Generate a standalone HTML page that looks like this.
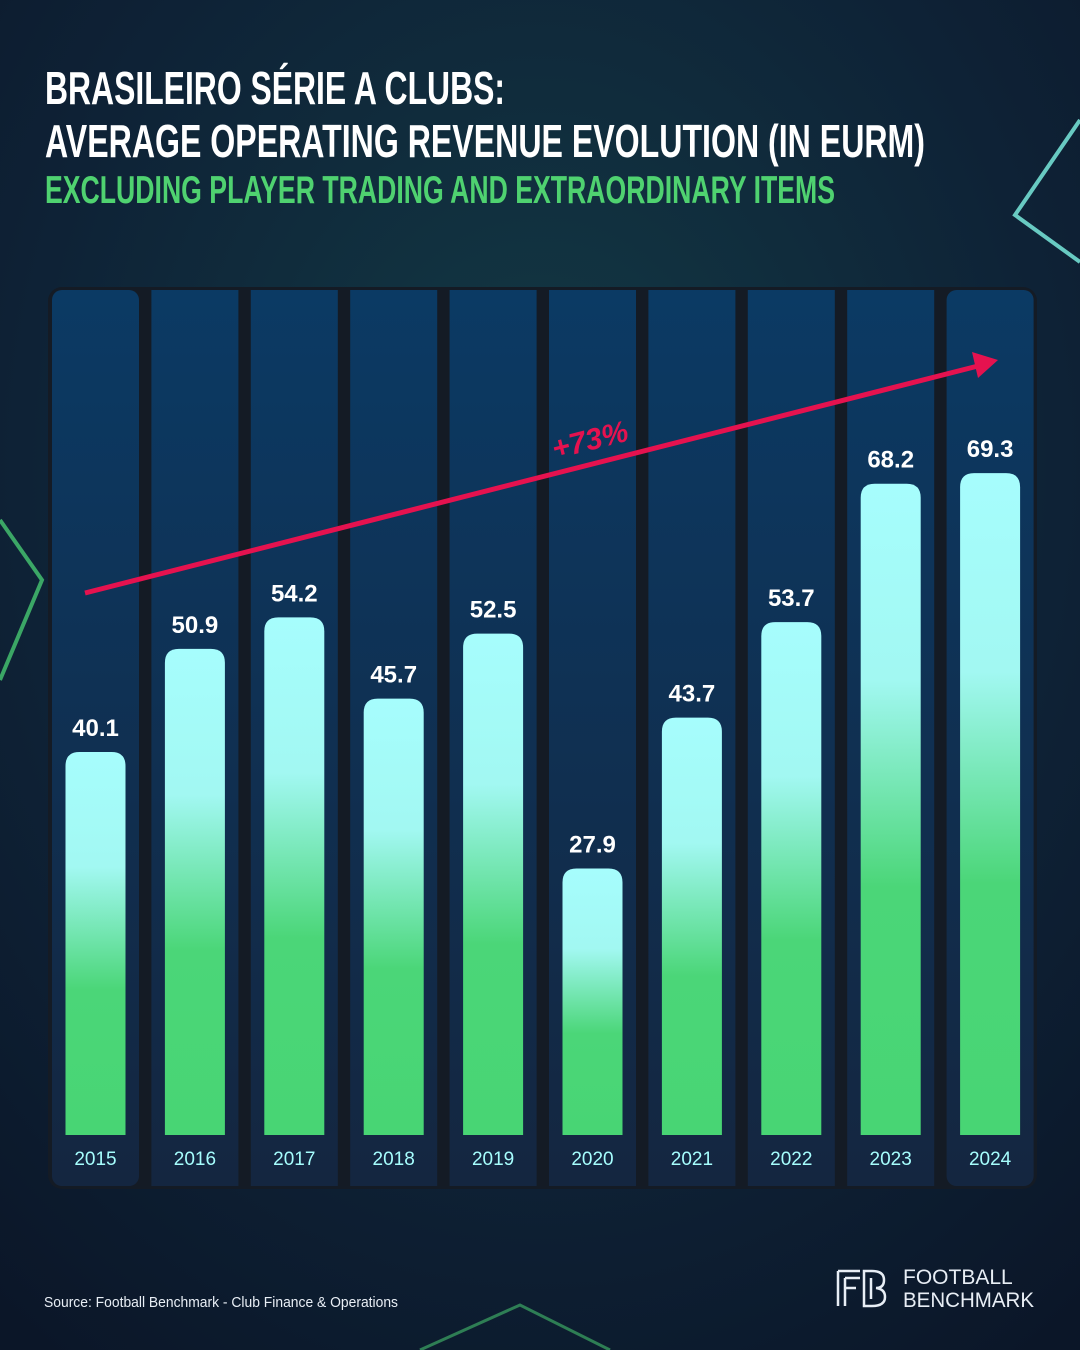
<!DOCTYPE html>
<html><head><meta charset="utf-8"><style>
html,body{margin:0;padding:0;background:#0c1a2e;}
svg{display:block;font-family:"Liberation Sans",sans-serif;}
</style></head><body>
<svg width="1080" height="1350" viewBox="0 0 1080 1350">
<defs>
<radialGradient id="bg" cx="0.5" cy="0.35" r="0.8">
<stop offset="0" stop-color="#133a45"/><stop offset="0.6" stop-color="#0e2236"/><stop offset="1" stop-color="#0b1628"/>
</radialGradient>
<linearGradient id="col" x1="0" y1="0" x2="0" y2="1">
<stop offset="0" stop-color="#0b3a64"/><stop offset="1" stop-color="#142640"/>
</linearGradient>
<linearGradient id="bar" x1="0" y1="0" x2="0" y2="1">
<stop offset="0" stop-color="#a6fdfd"/><stop offset="0.3" stop-color="#a2f8f2"/><stop offset="0.62" stop-color="#4bd678"/><stop offset="1" stop-color="#48d574"/>
</linearGradient>
</defs>
<rect width="1080" height="1350" fill="url(#bg)"/>
<polyline points="1080,120 1015,215 1080,262" stroke="#7ff5e6" stroke-width="4" fill="none" opacity="0.8"/>
<polyline points="0,520 42,580 0,680" stroke="#4fe07a" stroke-width="4" fill="none" opacity="0.7"/>
<polyline points="420,1350 520,1305 610,1350" stroke="#4fe07a" stroke-width="3" fill="none" opacity="0.5"/>
<text x="45" y="104" font-size="46" font-weight="bold" fill="#fff" textLength="460" lengthAdjust="spacingAndGlyphs">BRASILEIRO SÉRIE A CLUBS:</text>
<text x="45" y="157" font-size="46" font-weight="bold" fill="#fff" textLength="880" lengthAdjust="spacingAndGlyphs">AVERAGE OPERATING REVENUE EVOLUTION (IN EURM)</text>
<text x="45" y="203" font-size="39" font-weight="bold" fill="#4fd270" textLength="790" lengthAdjust="spacingAndGlyphs">EXCLUDING PLAYER TRADING AND EXTRAORDINARY ITEMS</text>
<rect x="48" y="287" width="989" height="902" rx="14" fill="#141b25"/>
<g id="plot"></g>
<line x1="85" y1="593" x2="978" y2="366" stroke="#e5124f" stroke-width="5"/>
<polygon points="998,360 972,352 978,378" fill="#e5124f"/>
<text x="590" y="450" font-size="30" font-style="italic" font-weight="bold" fill="#e5124f" text-anchor="middle" transform="rotate(-14 590 440)">+73%</text>
<text x="44" y="1307" font-size="15" fill="#e8eef5" textLength="354" lengthAdjust="spacingAndGlyphs">Source: Football Benchmark - Club Finance &amp; Operations</text>
<g stroke="#e8eef5" stroke-width="2.5" fill="none">
<path d="M838,1271 H860 M838,1271 V1306 M845,1278 H860 M845,1278 V1306 M845,1288 H856"/>
<path d="M864,1271 H872 Q884,1271 884,1280 Q884,1288 876,1288 Q885,1289 885,1297 Q885,1306 872,1306 H864 Z M871,1278 V1299"/>
</g>
<text x="903" y="1284" font-size="21" fill="#e8eef5">FOOTBALL</text>
<text x="903" y="1307" font-size="21" fill="#e8eef5" textLength="131" lengthAdjust="spacingAndGlyphs">BENCHMARK</text>
</svg>
<script>
const years = ["2015","2016","2017","2018","2019","2020","2021","2022","2023","2024"];
const values = [40.1,50.9,54.2,45.7,52.5,27.9,43.7,53.7,68.2,69.3];
const valueLabels = ["40.1","50.9","54.2","45.7","52.5","27.9","43.7","53.7","68.2","69.3"];

const NS="http://www.w3.org/2000/svg";
const g=document.getElementById('plot');
const baseY=1135, scale=9.55, pitch=99.4, x0=52, colW=87, barW=60;
function xCenter(i){return x0+i*pitch+colW/2;}
function yVal(v){return baseY-v*scale;}
function mk(t,a){const e=document.createElementNS(NS,t);for(const k in a)e.setAttribute(k,a[k]);g.appendChild(e);return e;}
years.forEach((yr,i)=>{
  const cx=xCenter(i);
  const col=mk('rect',{x:cx-colW/2,y:290,width:colW,height:896,rx:i==0||i==9?10:0,fill:'url(#col)'});
  
  
  const top=yVal(values[i]), h=baseY-top, r=14;
  const bar=mk('path',{d:`M${cx-barW/2},${baseY} V${top+r} Q${cx-barW/2},${top} ${cx-barW/2+r},${top} H${cx+barW/2-r} Q${cx+barW/2},${top} ${cx+barW/2},${top+r} V${baseY} Z`,fill:'url(#bar)'});
  
  
  const lbl=mk('text',{x:cx,y:top-16,'font-size':24,'font-weight':'bold',fill:'#fff','text-anchor':'middle'});
  lbl.textContent=valueLabels[i];
  
  
  const yl=mk('text',{x:cx,y:1165,'font-size':19,fill:'#a6fdfd','text-anchor':'middle'});
  yl.textContent=yr;
  
  
});
</script>
</body></html>
